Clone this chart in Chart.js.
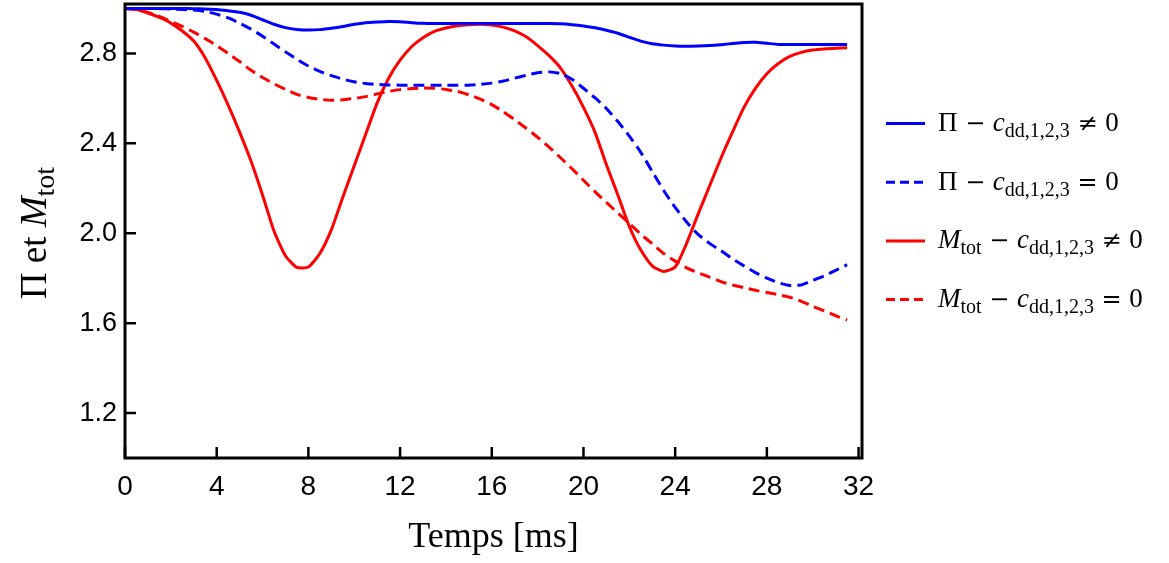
<!DOCTYPE html>
<html>
<head>
<meta charset="utf-8">
<script src="https://cdn.jsdelivr.net/npm/chart.js@4.4.1/dist/chart.umd.min.js"></script>
<style>
    html, body { margin: 0; padding: 0; background: #fff; }
</style>
</head>
<body>
<canvas id="chart" width="1169" height="563"></canvas>
<script>
// temps [ms], un point tous les 0.5 ms
let time = [
    0, 0.5, 1, 1.5, 2, 2.5, 3, 3.5,
    4, 4.5, 5, 5.5, 6, 6.5, 7, 7.5,
    8, 8.5, 9, 9.5, 10, 10.5, 11, 11.5,
    12, 12.5, 13, 13.5, 14, 14.5, 15, 15.5,
    16, 16.5, 17, 17.5, 18, 18.5, 19, 19.5,
    20, 20.5, 21, 21.5, 22, 22.5, 23, 23.5,
    24, 24.5, 25, 25.5, 26, 26.5, 27, 27.5,
    28, 28.5, 29, 29.5, 30, 30.5, 31, 31.5
];

// Π, c_dd != 0
let pi_cdd = [
    3.0, 3.0, 3.0, 3.0, 3.0, 3.0, 2.999, 2.998,
    2.996, 2.99, 2.983, 2.97, 2.95, 2.93, 2.915, 2.907,
    2.904, 2.906, 2.912, 2.92, 2.93, 2.937, 2.94, 2.942,
    2.941, 2.937, 2.934, 2.933, 2.933, 2.933, 2.933, 2.933,
    2.933, 2.933, 2.933, 2.933, 2.933, 2.933, 2.932, 2.928,
    2.922, 2.914, 2.903, 2.89, 2.872, 2.855, 2.843, 2.837,
    2.833, 2.832, 2.833, 2.835, 2.839, 2.844, 2.849, 2.85,
    2.845, 2.84, 2.84, 2.84, 2.84, 2.84, 2.84, 2.84
];

// Π, c_dd = 0
let pi_nocdd = [
    3.0, 3.0, 3.0, 2.999, 2.998, 2.996, 2.993, 2.987,
    2.975, 2.958, 2.935, 2.908, 2.877, 2.842, 2.807, 2.774,
    2.744, 2.72, 2.701, 2.686, 2.674, 2.666, 2.662, 2.66,
    2.659, 2.659, 2.659, 2.659, 2.659, 2.659, 2.659, 2.662,
    2.668, 2.677, 2.69, 2.703, 2.714, 2.718, 2.71, 2.685,
    2.645, 2.603, 2.555, 2.497, 2.432, 2.36, 2.275, 2.19,
    2.115, 2.05, 1.995, 1.955, 1.922, 1.886, 1.855, 1.825,
    1.8, 1.78, 1.768, 1.77, 1.79, 1.81, 1.835, 1.86
];

// M_tot, c_dd != 0
let mtot_cdd = [
    3.0, 2.995, 2.98, 2.96, 2.935, 2.9, 2.855, 2.78,
    2.68, 2.57, 2.45, 2.32, 2.17, 2.01, 1.9, 1.848,
    1.85, 1.91, 2.015, 2.16, 2.3, 2.44, 2.58, 2.69,
    2.77, 2.83, 2.87, 2.898, 2.913, 2.923, 2.928, 2.93,
    2.926, 2.917, 2.9, 2.874, 2.835, 2.79, 2.735, 2.655,
    2.56, 2.45, 2.305, 2.17, 2.03, 1.925, 1.855, 1.83,
    1.85, 1.955, 2.085, 2.21, 2.335, 2.45, 2.56, 2.645,
    2.71, 2.755, 2.787, 2.805, 2.815, 2.82, 2.823, 2.825
];

// M_tot, c_dd = 0
let mtot_nocdd = [
    3.0, 2.995, 2.983, 2.965, 2.943, 2.92, 2.895, 2.866,
    2.835, 2.8, 2.764, 2.725, 2.693, 2.665, 2.64, 2.618,
    2.604, 2.596, 2.592, 2.594, 2.6, 2.608, 2.62, 2.631,
    2.639, 2.644, 2.646, 2.645, 2.64, 2.631, 2.616, 2.597,
    2.572, 2.541, 2.505, 2.467, 2.427, 2.383, 2.336, 2.287,
    2.236, 2.185, 2.137, 2.09, 2.044, 1.996, 1.953, 1.91,
    1.876, 1.846, 1.824, 1.805, 1.785, 1.77, 1.758, 1.746,
    1.736, 1.727, 1.715, 1.697, 1.675, 1.655, 1.633, 1.614
];

let x_ticks = [0, 4, 8, 12, 16, 20, 24, 28, 32];
let y_ticks = [1.2, 1.6, 2.0, 2.4, 2.8];

let x_title = 'Temps [ms]';
let y_title = [['Π et ', 'r'], ['M', 'i'], ['tot', 's']];

// texte des légendes : r = droit, i = italique, s = indice, o = opérateur
let legend_labels = [
    [['Π', 'r'], [' − ', 'o'], ['c', 'i'], ['dd,1,2,3', 's'], [' ≠ ', 'o'], ['0', 'r']],
    [['Π', 'r'], [' − ', 'o'], ['c', 'i'], ['dd,1,2,3', 's'], [' = ', 'o'], ['0', 'r']],
    [['M', 'i'], ['tot', 's'], [' − ', 'o'], ['c', 'i'], ['dd,1,2,3', 's'], [' ≠ ', 'o'], ['0', 'r']],
    [['M', 'i'], ['tot', 's'], [' − ', 'o'], ['c', 'i'], ['dd,1,2,3', 's'], [' = ', 'o'], ['0', 'r']]
];

const SERIF = '"Liberation Serif", "DejaVu Serif", serif';

function toPoints(ys) {
    return time.map((t, i) => ({ x: t, y: ys[i] }));
}

function richText(ctx, parts, x, y, size, draw) {
    let cx = x;
    for (let [txt, st] of parts) {
        let dy = 0;
        if (st === 's') {
            ctx.font = Math.round(size * 0.75) + 'px ' + SERIF;
            dy = size * 0.22;
        } else if (st === 'o') {
            ctx.font = Math.round(size * 0.88) + 'px "DejaVu Serif", serif';
        } else {
            ctx.font = (st === 'i' ? 'italic ' : '') + size + 'px ' + SERIF;
        }
        if (draw) ctx.fillText(txt, cx, y + dy);
        cx += ctx.measureText(txt).width;
    }
    return cx - x;
}

const framePlugin = {
    id: 'frame',
    afterDraw(chart) {
        let ctx = chart.ctx;
        let area = chart.chartArea;
        let xs = chart.scales.x;
        let ys = chart.scales.y;
        ctx.save();

        // graduations vers l'intérieur
        ctx.strokeStyle = '#000';
        ctx.lineWidth = 2.5;
        ctx.beginPath();
        x_ticks.forEach(v => {
            let px = xs.getPixelForValue(v);
            ctx.moveTo(px, area.bottom);
            ctx.lineTo(px, area.bottom - 11);
        });
        y_ticks.forEach(v => {
            let py = ys.getPixelForValue(v);
            ctx.moveTo(area.left, py);
            ctx.lineTo(area.left + 11, py);
        });
        ctx.stroke();

        ctx.lineWidth = 3;
        ctx.strokeRect(area.left, area.top, area.right - area.left, area.bottom - area.top);

        // titres des axes
        ctx.fillStyle = '#000';
        ctx.textBaseline = 'alphabetic';
        ctx.textAlign = 'left';
        ctx.font = '36px ' + SERIF;
        let w = ctx.measureText(x_title).width;
        ctx.fillText(x_title, (area.left + area.right) / 2 - w / 2, 547);

        ctx.save();
        ctx.translate(46, (area.top + area.bottom) / 2 + 2);
        ctx.rotate(-Math.PI / 2);
        let tw = richText(ctx, y_title, 0, 0, 37, false);
        richText(ctx, y_title, -tw / 2, 0, 37, true);
        ctx.restore();

        // légende
        let datasets = chart.data.datasets;
        legend_labels.forEach((parts, i) => {
            let ds = datasets[i];
            let ly = 123.5 + i * 58.7;
            ctx.strokeStyle = ds.borderColor;
            ctx.lineWidth = 3;
            ctx.setLineDash(ds.borderDash ? [9, 5] : []);
            ctx.beginPath();
            ctx.moveTo(886, ly);
            ctx.lineTo(925, ly);
            ctx.stroke();
            ctx.setLineDash([]);
            ctx.fillStyle = '#000';
            richText(ctx, parts, 938, ly + 7.5, 27, true);
        });

        ctx.restore();
    }
};

let ctx = document.getElementById('chart');
new Chart(ctx, {
    type: 'line',
    data: {
        datasets: [
            {
                label: 'Π − c_dd,1,2,3 ≠ 0',
                data: toPoints(pi_cdd),
                borderColor: '#0000ff',
                borderWidth: 3
            },
            {
                label: 'Π − c_dd,1,2,3 = 0',
                data: toPoints(pi_nocdd),
                borderColor: '#0000ff',
                borderWidth: 3,
                borderDash: [11, 6]
            },
            {
                label: 'M_tot − c_dd,1,2,3 ≠ 0',
                data: toPoints(mtot_cdd),
                borderColor: '#ff0000',
                borderWidth: 3
            },
            {
                label: 'M_tot − c_dd,1,2,3 = 0',
                data: toPoints(mtot_nocdd),
                borderColor: '#ff0000',
                borderWidth: 3,
                borderDash: [11, 6]
            }
        ]
    },
    options: {
        responsive: false,
        animation: false,
        elements: {
            point: { radius: 0 },
            line: { tension: 0.2 }
        },
        layout: {
            padding: { left: 0, right: 307, top: 4, bottom: 0 }
        },
        plugins: {
            legend: { display: false },
            tooltip: { enabled: false }
        },
        scales: {
            x: {
                type: 'linear',
                min: 0,
                max: 32.15,
                afterBuildTicks: s => { s.ticks = x_ticks.map(v => ({ value: v })); },
                afterFit: s => { s.height = 105; s.paddingLeft = 0; s.paddingRight = 0; },
                grid: { display: false, drawTicks: false },
                border: { display: false },
                ticks: {
                    color: '#000',
                    padding: 12,
                    maxRotation: 0,
                    font: { family: '"Liberation Sans", Arial, sans-serif', size: 28 },
                    callback: v => String(v)
                }
            },
            y: {
                type: 'linear',
                min: 1.0,
                max: 3.02,
                afterBuildTicks: s => { s.ticks = y_ticks.map(v => ({ value: v })); },
                afterFit: s => { s.width = 125; s.paddingTop = 0; s.paddingBottom = 0; },
                grid: { display: false, drawTicks: false },
                border: { display: false },
                ticks: {
                    color: '#000',
                    padding: 8,
                    font: { family: '"Liberation Sans", Arial, sans-serif', size: 27 },
                    callback: v => v.toFixed(1)
                }
            }
        }
    },
    plugins: [framePlugin]
});
</script>
</body>
</html>
